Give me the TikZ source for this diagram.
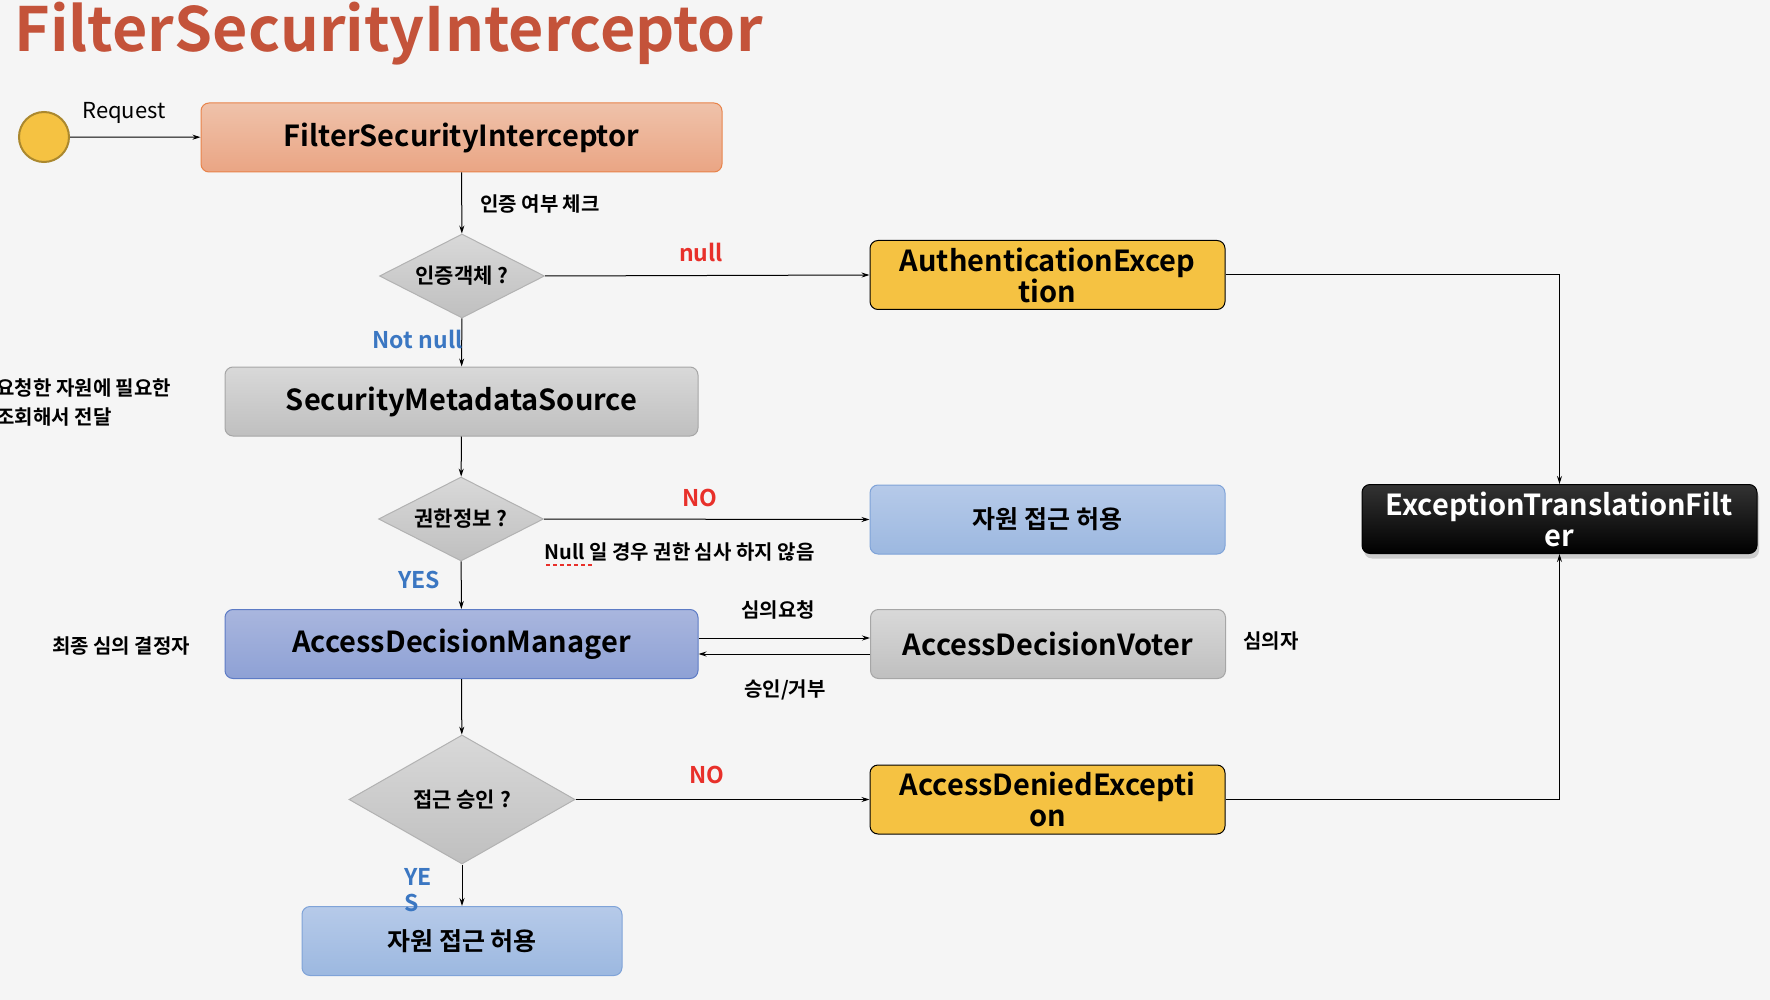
\documentclass[tikz,border=0pt]{standalone}
\usepackage{fontspec}
\setmainfont{Noto Sans CJK KR}[BoldFont=* Bold]
\usetikzlibrary{positioning,shapes.geometric,arrows.meta,shadows}

\definecolor{bgcol}{HTML}{F5F5F5}
\definecolor{titlecol}{HTML}{C4533A}
\definecolor{nocol}{HTML}{E8302A}
\definecolor{yescol}{HTML}{3B77C2}
\definecolor{gold}{HTML}{F5C242}
\definecolor{salmontop}{HTML}{EFC2AA}
\definecolor{salmonbot}{HTML}{EAA584}
\definecolor{salmonline}{HTML}{E8834A}
\definecolor{mgrtop}{HTML}{A9B6DE}
\definecolor{mgrbot}{HTML}{8EA1D5}
\definecolor{mgrline}{HTML}{5D7BC5}
\definecolor{skytop}{HTML}{B6CAE9}
\definecolor{skybot}{HTML}{9CB8E0}
\definecolor{skyline}{HTML}{7FA3D8}

\newcommand{\boxfont}{\fontsize{29}{31}\selectfont\bfseries}
\newcommand{\hanboxfont}{\fontsize{25}{30}\selectfont\bfseries}
\newcommand{\lblfont}{\fontsize{20}{29}\selectfont\bfseries}

\tikzset{
  box/.style={rounded corners=8pt, minimum width=355pt, minimum height=69pt,
    inner sep=2pt, align=center, font=\boxfont, line width=1pt},
  fsibox/.style={box, draw=salmonline, top color=salmontop, bottom color=salmonbot},
  greybox/.style={box, draw=black!35, top color=black!15, bottom color=black!25},
  bluebox/.style={box, draw=mgrline, top color=mgrtop, bottom color=mgrbot},
  lightbox/.style={box, draw=skyline, top color=skytop, bottom color=skybot, font=\hanboxfont},
  yellowbox/.style={box, draw=black, fill=gold},
  etfbox/.style={box, minimum width=395pt, text=white, draw=black, top color=black!80, bottom color=black,
    drop shadow={opacity=.35, shadow xshift=2pt, shadow yshift=-5pt}},
  decide/.style={diamond, aspect=2, inner sep=0pt, minimum width=165pt, minimum height=84pt,
    draw=black!30, top color=black!15, bottom color=black!25, font=\fontsize{21}{25}\selectfont\bfseries},
  lbl/.style={font=\lblfont},
  nolbl/.style={font=\fontsize{23}{26}\selectfont\bfseries, text=nocol},
  yeslbl/.style={font=\fontsize{23}{26}\selectfont\bfseries, text=yescol}
}

\begin{document}
\begin{tikzpicture}[x=1pt,y=-1pt, line width=1pt, >={Stealth[length=8pt,width=5pt]}]
% background
\useasboundingbox (0,0) rectangle (1770,1000);
\fill[bgcol] (0,0) rectangle (1770,1000);
% title
\node[anchor=base west, inner sep=0pt, text=titlecol, font=\fontsize{61}{64}\selectfont\bfseries] (title) at (14,52) {FilterSecurityInterceptor};
% draw nodes of the main column
\node[circle, minimum size=50pt, fill=gold, draw=gold!70!black, line width=2pt] (start) at (44,137) {};
\node[fsibox, minimum width=521pt] (fsi) at (461.5,137.5) {FilterSecurityInterceptor};
\node[decide] (auth) at (462,276) {인증객체 ?};
\node[greybox, minimum width=473pt] (sms) at (461.5,401.5) {SecurityMetadataSource};
\node[decide] (perm) at (461,519) {권한정보 ?};
\node[bluebox, minimum width=473pt] (adm) at (461.5,644) {AccessDecisionManager};
\node[decide, minimum width=226pt, minimum height=129pt] (grant) at (462,799.5) {접근 승인 ?};
\node[lightbox, minimum width=320pt] (allow2) at (462,941) {자원 접근 허용};
% draw nodes of the right columns
\node[yellowbox] (authex) at (1047.5,275) {AuthenticationExcep\\tion};
\node[lightbox] (allow1) at (1047.5,519.5) {자원 접근 허용};
\node[greybox] (adv) at (1048,644) {AccessDecisionVoter};
\node[yellowbox] (denied) at (1047.5,799.5) {AccessDeniedExcepti\\on};
\node[etfbox] (etf) at (1559.5,519) {ExceptionTranslationFilt\\er};
% draw arrows
\draw[->] (start) -- (fsi);
\draw[->] (fsi) -- (auth);
\draw[->] (auth) -- (sms);
\draw[->] (sms) -- (perm);
\draw[->] (perm) -- (adm);
\draw[->] (adm) -- (grant);
\draw[->] (grant) -- (allow2);
\draw[->] (auth.east) -- (authex.west);
\draw[->] (perm.east) -- (allow1.west);
\draw[->] (grant.east) -- (denied.west);
\draw[->] ([yshift=6pt]adm.east) -- ([yshift=6pt]adv.west);
\draw[->] ([yshift=-10pt]adv.west) -- ([yshift=-10pt]adm.east);
\draw[->] (authex.east) -| (etf.north);
\draw[->] (denied.east) -| (etf.south);
% draw labels
\node[font=\fontsize{22}{25}\selectfont] (req) at (124,113) {Request};
\node[lbl] (check) at (540,204) {인증 여부 체크};
\node[nolbl] (null) at (701,252) {null};
\node[yeslbl, anchor=east, inner sep=0pt] (notnull) at (463,339) {Not null};
\node[lbl, anchor=west, align=left, inner sep=0pt] (lookup) at (-4,402) {요청한 자원에 필요한\\조회해서 전달};
\node[nolbl] (no1) at (700,498) {NO};
\node[lbl, anchor=west, inner sep=0pt] (nullnote) at (544,552) {Null 일 경우 권한 심사 하지 않음};
\draw[nocol, line width=2.5pt, dash pattern=on 4pt off 3pt] (546,565) -- (592,565);
\node[yeslbl] (yes1) at (419,580) {YES};
\node[lbl] (final) at (121,646) {최종 심의 결정자};
\node[lbl] (voter) at (1271,641) {심의자};
\node[lbl] (ask) at (778,610) {심의요청};
\node[lbl] (reply) at (785,690) {승인/거부};
\node[nolbl] (no2) at (707,775) {NO};
\node[yeslbl, align=left, inner sep=0pt] (yes2) at (418,890) {YE\\S};
\end{tikzpicture}
\end{document}
